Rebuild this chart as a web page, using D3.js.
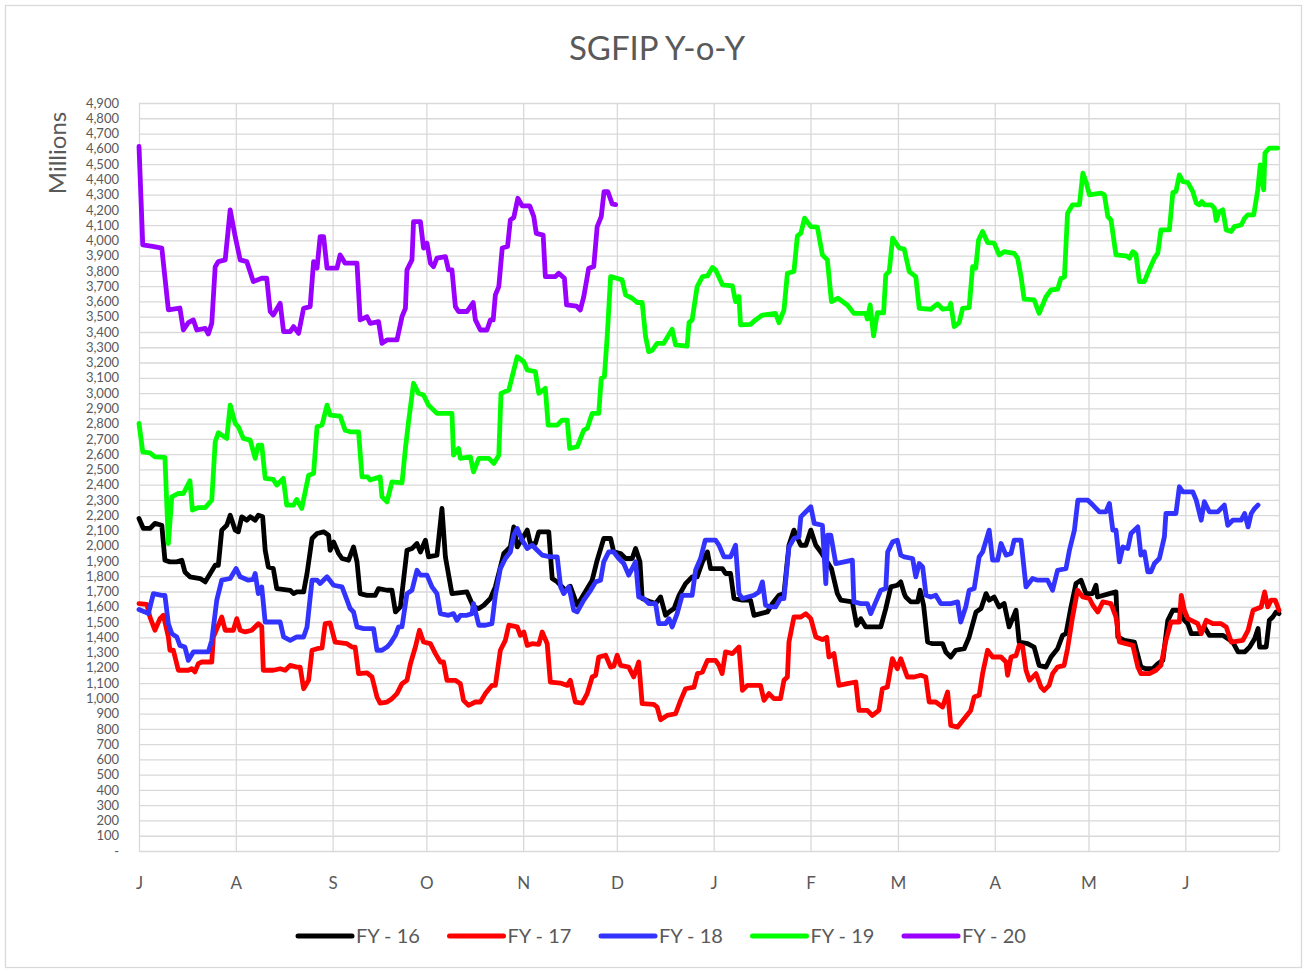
<!DOCTYPE html>
<html>
<head>
<meta charset="utf-8">
<script src="https://cdn.jsdelivr.net/npm/d3@7"></script>
<style>
  body { margin: 0; background: #fff; }
  text { font-family: Lato, "Noto Sans", sans-serif; fill: #595959; }
</style>
</head>
<body>
<svg id="chart"></svg>
<script>
// Month ticks (fiscal year days from 1 July)
const monthLabels = ['J', 'A', 'S', 'O', 'N', 'D', 'J', 'F', 'M', 'A', 'M', 'J'];
const monthStartDays = [0, 31, 62, 92, 123, 153, 184, 215, 243, 274, 304, 335, 365];
const seriesNames = ['FY - 16', 'FY - 17', 'FY - 18', 'FY - 19', 'FY - 20'];
const seriesColors = ['#000000', '#ff0000', '#3333ff', '#00ff00', '#9900ff'];

// [day, millions]
const fy16 = [[0,2178],[1.4,2113],[3.5,2113],[5.1,2146],[7.3,2134],[8.3,1905],[9.9,1894],[12.1,1894],[13.7,1905],[14.7,1828],[16.3,1796],[19.6,1785],[21.2,1763],[22.8,1818],[24.4,1872],[25.4,1872],[26.5,2102],[28.1,2134],[29.2,2200],[30.8,2102],[31.8,2091],[32.9,2189],[34.5,2167],[35.6,2189],[37.2,2167],[38.2,2200],[39.6,2189],[40.4,1970],[41.4,1861],[43,1850],[44.1,1719],[48.4,1708],[49.5,1686],[50.5,1697],[52.7,1697],[53.8,1818],[55.4,2047],[57,2080],[59.1,2091],[60.7,2069],[61.2,1970],[62.3,2025],[63.9,1949],[65,1916],[67.1,1905],[68.7,1992],[69.8,1894],[70.8,1686],[73,1675],[75.6,1675],[76.7,1719],[79.4,1708],[81,1708],[82.1,1566],[83.7,1599],[85.8,1970],[87.4,1981],[89,2014],[90.1,1959],[91.7,2036],[92.7,1927],[95.4,1938],[97,2244],[98.1,1927],[100.2,1686],[105,1697],[107.1,1599],[108.8,1588],[110.4,1610],[112.5,1654],[114.1,1730],[116.8,1949],[118.9,1992],[120,2123],[121.1,1992],[124.3,2102],[125.3,2014],[126.9,2014],[128,2091],[131.2,2091],[132.3,1785],[133.9,1763],[136.5,1708],[138.1,1734],[140.3,1610],[141.9,1664],[145.1,1774],[146.7,1905],[148.8,2047],[151,2047],[152,1959],[154.2,1949],[155.8,1916],[157.9,1916],[159,1981],[160.4,1894],[161.1,1654],[163.8,1632],[165.4,1621],[167,1664],[168.6,1544],[169.7,1566],[171.3,1588],[172.9,1675],[175,1752],[177.1,1796],[178.7,1796],[180.4,1894],[182,1959],[183,1850],[186.8,1850],[187.8,1818],[189.4,1818],[190.5,1654],[193.2,1643],[195.8,1643],[196.9,1544],[199,1555],[201.2,1566],[202.8,1621],[204.9,1675],[206.5,1686],[208.1,2003],[209.7,2102],[211.9,2003],[213.5,2003],[215.1,2102],[216.7,2003],[218.3,1959],[221.7,1850],[223.6,1686],[224.7,1643],[228.4,1632],[229.8,1479],[231.1,1522],[232.7,1468],[237.5,1468],[239.1,1588],[240.7,1730],[242.8,1741],[243.9,1763],[245,1686],[245.5,1664],[247.1,1632],[249.3,1632],[250.1,1708],[251.2,1610],[252.5,1369],[254.1,1358],[257.3,1358],[258.3,1304],[259.9,1271],[261.5,1315],[264.2,1325],[265.8,1402],[268,1566],[269.6,1588],[271.2,1686],[272.2,1643],[273.8,1664],[275.4,1599],[277,1621],[278.6,1468],[279.7,1522],[280.8,1577],[281.8,1369],[284.5,1358],[286.6,1336],[288.2,1216],[290.4,1205],[292,1271],[294.1,1325],[295.7,1413],[296.8,1424],[298.4,1599],[300,1752],[301.6,1774],[303.2,1686],[305.3,1686],[306.4,1741],[306.9,1664],[310.7,1686],[312.8,1697],[313.4,1402],[315.5,1380],[318.7,1369],[320.8,1205],[322.4,1194],[324.6,1194],[326.2,1227],[327.8,1249],[329.4,1511],[331,1577],[333.1,1577],[334.2,1522],[335.8,1489],[336.9,1424],[339.5,1424],[341.1,1468],[342.7,1413],[347,1413],[350.2,1369],[351.9,1304],[354,1304],[355.6,1336],[357.2,1391],[358.3,1457],[358.8,1336],[360.9,1336],[361.9,1511],[363,1533],[364.1,1566],[365,1555]];

const fy17 = [[0,1621],[2.5,1616],[3.5,1533],[5.1,1446],[6.7,1522],[7.8,1544],[9.4,1402],[9.9,1315],[11,1315],[12.6,1184],[15.8,1184],[16.9,1195],[17.9,1173],[19,1227],[20.1,1238],[23.3,1238],[23.8,1402],[25.4,1479],[26.5,1533],[27.6,1446],[30.2,1446],[31.3,1522],[32.4,1446],[34,1435],[36.1,1446],[38.2,1489],[39.3,1470],[39.8,1184],[43,1184],[45.2,1194],[46.8,1184],[48.4,1216],[50.5,1205],[51.6,1205],[52.7,1063],[54.3,1118],[55.4,1315],[57,1325],[58.6,1330],[59.6,1489],[61.2,1494],[62.8,1369],[66.6,1358],[68.2,1336],[69.2,1336],[70.3,1162],[73,1167],[74.6,1140],[76.2,1009],[77.2,969],[79.4,976],[81,998],[82.6,1031],[84.2,1096],[85.8,1118],[86.9,1227],[88.5,1336],[89.8,1446],[91.1,1369],[93.3,1358],[94.9,1293],[96.5,1238],[97.5,1238],[98.6,1118],[101.3,1118],[102.9,1096],[103.9,987],[105.5,954],[107.7,976],[109.3,976],[110.9,1031],[113,1085],[114.1,1085],[115.7,1315],[117.3,1380],[118.4,1479],[121.1,1468],[122.1,1413],[123.2,1435],[124.3,1347],[125.9,1358],[128,1354],[129.1,1435],[130.7,1358],[131.7,1107],[134.9,1100],[137.1,1085],[138.1,1118],[139.7,976],[141.9,969],[143.5,1031],[145.1,1140],[146.2,1151],[147.2,1271],[149.4,1282],[151,1205],[152,1210],[153.1,1282],[154.2,1216],[156.8,1205],[158.4,1140],[160,1238],[161.1,965],[164.8,961],[165.9,943],[167,860],[169.1,888],[171.8,899],[173.4,987],[175,1063],[177.7,1074],[178.8,1162],[180.4,1173],[182,1249],[184.6,1249],[185.7,1216],[186.7,1162],[187.8,1304],[190,1293],[192.1,1336],[193.2,1052],[194.8,1085],[199,1085],[200.1,987],[201.7,1031],[203.3,998],[205.4,998],[206.5,1118],[207.6,1140],[208.1,1369],[209.7,1533],[211.9,1533],[213.5,1555],[215.1,1522],[216.7,1402],[218.8,1385],[220.2,1400],[220.9,1271],[222.5,1293],[224.1,1085],[226.8,1096],[229.5,1107],[230.5,921],[233.2,921],[234.8,888],[236.9,921],[238,1063],[239.6,1074],[241.2,1260],[242.8,1194],[243.9,1260],[246,1140],[248.2,1140],[250.3,1151],[251.9,1140],[253,976],[255.1,976],[257.3,943],[258.9,1041],[259.9,823],[262.1,812],[264.2,867],[266.3,921],[267.4,1009],[269,1020],[270.1,1162],[271.7,1315],[273.3,1271],[276,1271],[277.6,1238],[278.1,1151],[279.2,1271],[280.8,1280],[281.8,1347],[282.9,1340],[284,1184],[285.1,1118],[287.2,1162],[288.8,1074],[289.8,1052],[291.4,1085],[292.5,1162],[294.1,1205],[296.2,1216],[297.3,1325],[298.9,1533],[300.5,1708],[302.2,1664],[304.3,1654],[305.4,1610],[307,1566],[308.6,1632],[311.2,1621],[312.8,1533],[313.9,1369],[316,1358],[318.2,1347],[319.8,1205],[320.8,1162],[323.5,1162],[325.6,1184],[327.2,1216],[328.8,1380],[330.4,1500],[333.1,1500],[333.7,1675],[334.7,1577],[335.8,1522],[339,1489],[340.1,1424],[341.7,1511],[343.8,1489],[346.5,1489],[348.1,1468],[349.7,1369],[353.4,1380],[355.1,1446],[356.7,1577],[359.3,1599],[360.4,1697],[361.4,1599],[362.5,1643],[363.8,1643],[365,1577]];

const fy18 = [[0,1582],[1.9,1566],[3,1555],[4.6,1686],[7.3,1675],[8.3,1675],[9.4,1489],[10.5,1424],[12.1,1402],[13.1,1347],[14.7,1336],[15.8,1249],[17.4,1304],[22.2,1304],[23.3,1380],[24.9,1643],[26.5,1774],[29.2,1785],[31.1,1850],[32.4,1796],[35,1774],[36.6,1780],[37.2,1818],[38.2,1686],[39.3,1730],[40.4,1500],[45.2,1500],[46.3,1402],[48.4,1380],[50.5,1402],[52.7,1402],[53.8,1468],[55.4,1774],[57,1774],[58,1752],[60.2,1796],[62.3,1741],[65,1730],[66.6,1643],[67.6,1588],[68.7,1566],[69.8,1468],[71.9,1457],[75.1,1457],[76.2,1315],[77.8,1315],[79.4,1336],[80.4,1358],[82.1,1413],[83.1,1468],[84.2,1468],[85.8,1686],[87.4,1708],[89,1839],[90.1,1807],[92.2,1807],[93.8,1730],[95.4,1686],[96.5,1555],[99.1,1544],[100.7,1555],[101.8,1511],[102.9,1544],[105,1544],[106.6,1555],[107.1,1621],[108.8,1479],[110.9,1479],[113,1489],[114.1,1675],[115.7,1850],[117.3,1916],[118.9,1959],[120,2069],[121.1,2113],[122.7,2036],[124.3,1981],[125.9,2003],[127.5,1970],[129.1,1938],[131.7,1927],[133.9,1927],[135,1730],[136,1686],[137.6,1730],[138.1,1686],[139.2,1577],[140.3,1566],[142.4,1643],[144.6,1708],[146.2,1763],[147.8,1774],[148.8,1894],[150.4,1959],[152,1959],[153.6,1916],[155.2,1883],[156.8,1807],[159,1894],[160,1664],[161.6,1654],[163.2,1621],[165.4,1621],[166.4,1489],[168.6,1489],[169.7,1522],[170.7,1468],[172.3,1555],[173.9,1675],[177.1,1675],[178.2,1839],[179.8,1916],[181.3,2036],[184.6,2036],[185.7,2003],[187.3,1927],[189.4,1927],[191,2003],[192.1,1686],[193.2,1654],[196.9,1675],[198.5,1697],[199.6,1763],[200.6,1610],[202.2,1599],[203.8,1599],[205.4,1654],[206.5,1654],[208.1,1992],[209.7,2047],[211.3,2058],[211.9,2189],[213.5,2222],[215.1,2255],[216.2,2146],[218.8,2134],[219.9,1752],[220.5,2069],[221.5,2069],[223.1,1883],[225.8,1894],[228.4,1905],[228.9,1632],[231.1,1621],[233.2,1621],[234.3,1555],[235.9,1632],[237.5,1708],[239.1,1719],[239.7,1959],[241.3,2025],[242.8,2036],[243.9,1938],[245,1927],[247.7,1916],[248.7,1796],[249.8,1883],[250.9,1861],[252,1675],[253.5,1664],[255.1,1675],[256.7,1621],[259.9,1621],[262.1,1632],[263.1,1500],[264.7,1599],[265.8,1708],[267.4,1719],[269,1927],[270.1,1959],[272.2,2102],[273.3,1905],[274.9,1905],[276,2014],[277.6,1938],[279.2,1949],[280.2,2036],[282.4,2036],[284,1730],[286.1,1785],[287.7,1774],[290.9,1774],[292.5,1708],[294.1,1839],[296.8,1850],[297.9,1970],[299.5,2102],[300.6,2298],[303.8,2298],[305.4,2266],[307.5,2222],[309.6,2222],[310.7,2277],[311.8,2102],[312.8,2102],[313.9,1894],[315,1992],[316.6,1981],[317.6,2080],[319.8,2123],[320.8,1938],[321.9,1960],[323,1828],[324,1828],[325.1,1883],[326.7,1916],[328.3,2058],[328.8,2211],[332,2211],[333.1,2386],[334.2,2353],[337.4,2353],[338.5,2298],[340.1,2167],[341.1,2288],[342.7,2222],[345.4,2222],[347.5,2266],[348.6,2134],[350.2,2167],[352.9,2167],[354,2211],[355.1,2123],[356.1,2211],[357.2,2244],[358.3,2266]];

const fy19 = [[0,2801],[1.2,2615],[3.5,2608],[5.1,2582],[8.3,2578],[9.4,2014],[10.5,2320],[12.6,2342],[14.2,2342],[16.3,2425],[17.1,2233],[19,2250],[21.2,2250],[23.3,2298],[24.4,2681],[25.4,2740],[28.1,2703],[29.2,2921],[30.8,2801],[31.8,2779],[33.4,2703],[35.6,2692],[37.2,2572],[38.2,2659],[39.3,2659],[40.4,2441],[43,2434],[44.1,2397],[46.2,2441],[47.3,2266],[49.5,2266],[50.5,2303],[52.1,2244],[54.3,2462],[55.9,2473],[57,2779],[58.6,2790],[60.2,2921],[61.2,2856],[64.4,2849],[66,2757],[67.6,2746],[70.3,2746],[71.4,2451],[73.2,2451],[74,2430],[77.2,2451],[77.8,2320],[79.4,2287],[81,2418],[84.2,2411],[85.3,2637],[86.3,2812],[87.9,3064],[89.5,2998],[91.1,2987],[92.7,2921],[95.4,2867],[100.2,2867],[100.7,2593],[102.3,2637],[102.9,2572],[106.1,2582],[107.1,2484],[108.8,2572],[112,2572],[113.6,2539],[115.2,2593],[115.9,2998],[118.4,3020],[121.1,3238],[123.2,3205],[124.3,3151],[126.9,3140],[128,2998],[130.1,3031],[131,2790],[133.9,2790],[135.5,2823],[137.1,2823],[137.9,2637],[140.3,2648],[142.4,2757],[143.5,2768],[145.1,2867],[147.2,2867],[148,3096],[149,3107],[149.9,3369],[151,3763],[154.7,3741],[155.8,3643],[157.9,3621],[159.5,3593],[161.1,3593],[162.2,3369],[163.2,3271],[164.3,3280],[165.9,3326],[168,3326],[170.7,3418],[171.8,3315],[175.5,3308],[176.1,3461],[177.1,3479],[178.7,3697],[180.4,3763],[182,3767],[183.6,3822],[184.6,3807],[186.8,3709],[190,3702],[191,3599],[192.1,3632],[192.6,3446],[195.8,3450],[197.4,3479],[199.6,3511],[203.8,3522],[204.9,3461],[206.5,3544],[207.6,3785],[209.7,3796],[210.8,4030],[211.9,4047],[213.1,4146],[215.1,4090],[217.2,4087],[218.8,3905],[220.4,3872],[221.7,3599],[223.8,3621],[226.8,3577],[228.9,3522],[232.7,3522],[233.2,3485],[234.1,3577],[235.2,3374],[236.4,3526],[238.4,3526],[239.1,3774],[240.2,3796],[241.3,4015],[243.4,3950],[245,3943],[246.6,3796],[248.7,3763],[249.8,3555],[253.5,3549],[255.7,3584],[257.3,3549],[259.4,3555],[259.9,3588],[261,3435],[262.6,3461],[263.7,3555],[265.8,3560],[266.9,3828],[267.9,3818],[268.8,4003],[270.1,4058],[271.7,3986],[273.8,3982],[275.4,3905],[277,3926],[280.2,3915],[281.3,3884],[282.4,3763],[283.4,3615],[286.6,3610],[288.2,3522],[290.4,3631],[292,3675],[294.1,3680],[295.2,3752],[296.3,3760],[297.3,4178],[298.9,4233],[301.1,4233],[302.2,4440],[303.2,4385],[304.3,4298],[308,4309],[309.1,4298],[310.2,4156],[311.2,4134],[312.8,3905],[316,3899],[317.1,3884],[318.2,3926],[319.2,3910],[320.3,3730],[321.9,3730],[323,3785],[325.1,3884],[326.2,3917],[327.2,4069],[329.9,4069],[331,4313],[332,4320],[333.1,4429],[334.2,4385],[335.8,4380],[337.4,4320],[338.5,4244],[339.5,4233],[340.3,4255],[341.1,4233],[343.3,4233],[344.3,4211],[344.9,4130],[345.9,4189],[347,4200],[348.1,4069],[349.7,4058],[350.7,4090],[352.9,4101],[354,4146],[355,4167],[356.9,4167],[358.2,4331],[359,4495],[360.1,4331],[360.5,4572],[361.9,4605],[364.6,4605]];

const fy20 = [[0,4615],[1.2,3970],[4.4,3960],[7.3,3950],[9.4,3545],[13.1,3557],[14.2,3413],[15.8,3461],[17.4,3479],[18.5,3413],[21.2,3424],[22.2,3387],[23.3,3457],[24.4,3828],[25.4,3861],[27.6,3872],[29.2,4200],[30.8,4025],[32.4,3872],[34.5,3861],[36.6,3730],[39.3,3752],[40.9,3752],[42,3534],[43,3511],[45.2,3588],[46.3,3402],[48.4,3402],[49.5,3435],[51.1,3391],[52.7,3555],[54.8,3566],[55.9,3861],[57,3818],[58,4025],[59.1,4025],[60.2,3818],[63.4,3818],[64.4,3905],[66,3851],[69.8,3851],[70.8,3479],[73,3500],[74,3457],[76.7,3468],[77.8,3326],[79.4,3348],[82.6,3348],[84.2,3500],[85.3,3555],[85.8,3807],[87.4,3872],[87.9,4123],[90.1,4123],[91.1,3950],[92.2,3982],[93.3,3851],[94.3,3828],[95.4,3884],[98.1,3894],[99.1,3807],[100.2,3807],[101.3,3566],[102.3,3534],[105,3534],[107,3593],[107.7,3479],[109.3,3413],[111.4,3413],[112.5,3479],[113.4,3479],[114.1,3643],[115.2,3697],[116.3,3950],[118,3960],[118.9,4134],[120,4150],[121.3,4276],[122.7,4226],[125.1,4226],[126.4,4156],[127.2,4046],[129.4,4035],[130.1,3763],[133.3,3763],[134.4,3785],[136.2,3752],[136.9,3577],[140.1,3570],[141.3,3544],[142.4,3631],[144,3818],[145.6,3828],[146.7,4090],[148,4156],[148.9,4320],[150.1,4320],[151.5,4239],[152.6,4234]];

const yTicks = d3.range(0, 4901, 100);

const W = 1307, H = 973;
const plot = { left: 139, right: 1279, top: 103, bottom: 851 };

const svg = d3.select('#chart')
    .attr('width', W)
    .attr('height', H);

// chart border
svg.append('rect')
    .attr('x', 5.5).attr('y', 5.5)
    .attr('width', W - 11).attr('height', H - 11)
    .attr('fill', '#fff')
    .attr('stroke', '#d9d9d9')
    .attr('stroke-width', 1.3);

const xScale = d3.scaleLinear()
    .domain([0, 365])
    .range([plot.left, plot.right]);

const yScale = d3.scaleLinear()
    .domain([0, 4900])
    .range([plot.bottom, plot.top]);

// horizontal gridlines + y labels
const yAxis = d3.axisLeft(yScale)
    .tickValues(yTicks)
    .tickSize(-(plot.right - plot.left))
    .tickPadding(20)
    .tickFormat(d => d === 0 ? '-' : d3.format(',')(d));

svg.append('g')
    .attr('transform', `translate(${plot.left}, 0)`)
    .call(yAxis)
    .call(g => g.select('.domain').remove())
    .call(g => g.selectAll('line').attr('stroke', '#d9d9d9').attr('stroke-width', 1.3))
    .call(g => g.selectAll('text')
        .attr('fill', '#595959')
        .style('font-size', '13px'));

// vertical gridlines at month starts
const xAxis = d3.axisBottom(xScale)
    .tickValues(monthStartDays)
    .tickSize(-(plot.bottom - plot.top))
    .tickPadding(26)
    .tickFormat((d, i) => monthLabels[i] || '');

svg.append('g')
    .attr('transform', `translate(0, ${plot.bottom})`)
    .call(xAxis)
    .call(g => g.select('.domain').remove())
    .call(g => g.selectAll('line').attr('stroke', '#d9d9d9').attr('stroke-width', 1.3))
    .call(g => g.selectAll('text')
        .attr('fill', '#595959')
        .style('font-size', '17px'));

// lines
const line = d3.line()
    .x(d => xScale(d[0]))
    .y(d => yScale(d[1]));

const allSeries = [fy16, fy17, fy18, fy19, fy20];

svg.selectAll('.series')
    .data(allSeries)
    .enter()
    .append('path')
    .attr('class', 'series')
    .attr('d', line)
    .attr('fill', 'none')
    .attr('stroke', (d, i) => seriesColors[i])
    .attr('stroke-width', 4.8)
    .attr('stroke-linejoin', 'round')
    .attr('stroke-linecap', 'round');

// title
svg.append('text')
    .attr('x', 657)
    .attr('y', 60)
    .attr('text-anchor', 'middle')
    .style('font-size', '33px')
    .text('SGFIP Y-o-Y');

// y label
svg.append('text')
    .attr('transform', 'rotate(-90)')
    .attr('x', -153)
    .attr('y', 66)
    .attr('text-anchor', 'middle')
    .style('font-size', '24px')
    .text('Millions');

// legend
const legend = svg.selectAll('.legend')
    .data(seriesNames)
    .enter()
    .append('g')
    .attr('class', 'legend')
    .attr('transform', (d, i) => `translate(${298 + i * 151.5}, 936)`);

legend.append('line')
    .attr('x1', 0)
    .attr('x2', 54)
    .attr('stroke', (d, i) => seriesColors[i])
    .attr('stroke-width', 5)
    .attr('stroke-linecap', 'round');

legend.append('text')
    .attr('x', 58)
    .attr('dy', '0.35em')
    .style('font-size', '20px')
    .text(d => d);
</script>
</body>
</html>
